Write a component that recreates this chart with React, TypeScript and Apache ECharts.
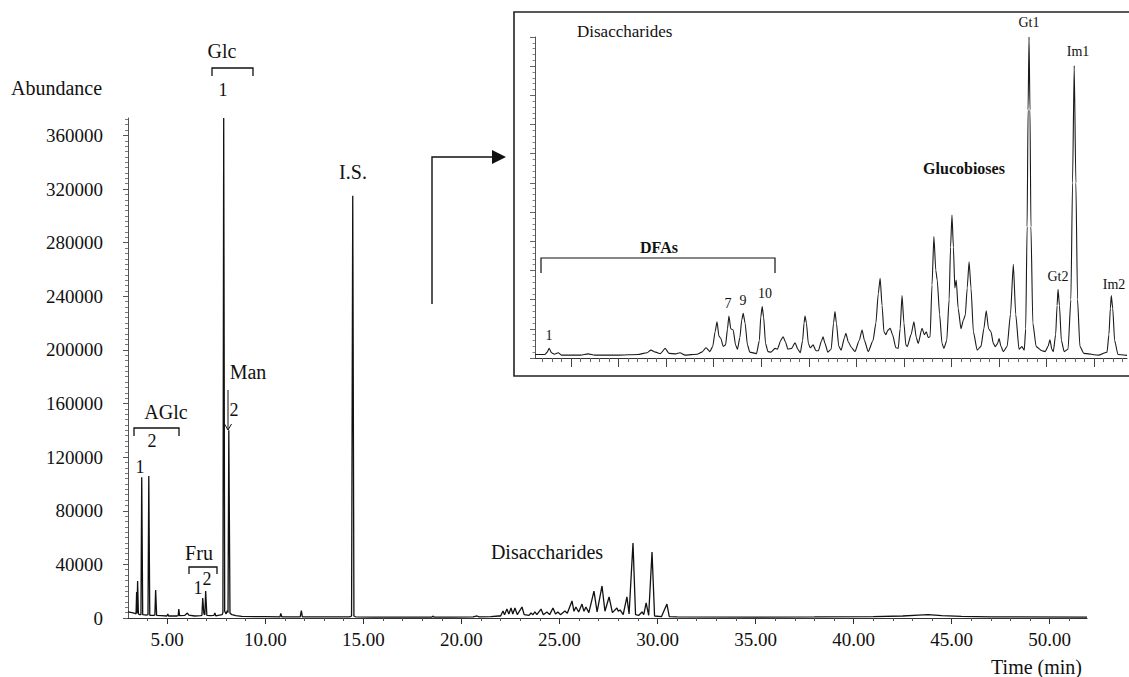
import React, { useEffect, useRef } from "react";
import * as echarts from "echarts";

// ---- main chromatogram (time in min, abundance) ----
const mainMonosaccharides: [number, number][] = [
  [3.0, 4500], [3.2, 4000], [3.35, 3500], [3.41, 3000], [3.44, 19400], [3.46, 3500], [3.49, 27600], [3.53, 3000],
  [3.6, 2500], [3.66, 2500], [3.7, 105000], [3.75, 2500], [3.95, 2200], [4.02, 2500], [4.06, 106000], [4.11, 2000],
  [4.3, 2000], [4.37, 2200], [4.41, 20900], [4.46, 2000], [4.7, 1800], [4.98, 1500], [5.03, 3000], [5.07, 1500],
  [5.5, 1500], [5.56, 1800], [5.59, 6700], [5.63, 1800], [5.9, 2000], [6.03, 3700], [6.1, 2200], [6.4, 1500],
  [6.7, 1800], [6.77, 2000], [6.81, 14900], [6.87, 3000], [6.92, 2500], [6.96, 20100], [7.02, 2000], [7.2, 1800],
  [7.38, 2000], [7.43, 3700], [7.48, 1500], [7.6, 2000], [7.8, 2500], [7.84, 4000], [7.88, 373000], [7.93, 5000],
  [8.0, 3000], [8.06, 5500], [8.1, 4000], [8.14, 140000], [8.2, 3500], [8.3, 2500], [8.5, 1800], [8.8, 1200],
  [9.5, 1000], [10.0, 1000], [10.75, 900], [10.79, 3500], [10.84, 900], [11.78, 900], [11.84, 5500], [11.89, 900],
  [12.5, 900], [13.3, 800], [14.3, 800], [14.4, 1500], [14.46, 315000], [14.52, 1500], [14.6, 900], [15.5, 700],
  [17.0, 700], [18.5, 700], [18.55, 1400], [18.62, 600], [19.5, 700], [20.6, 800], [20.8, 1500], [20.9, 900],
  [21.5, 1000], [21.9, 1500],
];

const mainDisaccharides: [number, number][] = [
  [22.0, 1500], [22.12, 5200], [22.2, 2500], [22.32, 6700], [22.42, 3000], [22.53, 7500], [22.62, 3000],
  [22.73, 7500], [22.85, 2500], [23.09, 8200], [23.2, 2500], [23.45, 2000], [23.55, 3700], [23.65, 2500],
  [23.75, 4500], [23.85, 2500], [24.06, 6700], [24.18, 2500], [24.36, 4500], [24.5, 2500], [24.67, 7500],
  [24.8, 3000], [24.92, 4500], [25.05, 2500], [25.28, 5200], [25.4, 3500], [25.64, 12700], [25.74, 5000],
  [25.84, 8200], [25.98, 4500], [26.15, 10400], [26.25, 5000], [26.35, 8200], [26.5, 4000], [26.76, 20000],
  [26.92, 4500], [27.17, 23900], [27.32, 5000], [27.53, 15700], [27.7, 4000], [27.93, 7500], [28.0, 5000],
  [28.09, 6000], [28.25, 2500], [28.44, 15700], [28.55, 3000], [28.75, 56000], [28.88, 2500], [29.05, 2000],
  [29.21, 4500], [29.3, 2500], [29.42, 11200], [29.55, 2000], [29.72, 49300], [29.85, 1500], [30.2, 1000],
  [30.48, 10400], [30.6, 1000], [31.0, 800],
];

const mainTail: [number, number][] = [
  [35.0, 700], [38.0, 800], [41.0, 1000], [42.5, 1500], [43.3, 2200], [43.8, 2500], [44.5, 1800],
  [45.5, 1200], [47.0, 800], [51.9, 700],
];

// ---- inset (disaccharide region, relative abundance) ----
const insetDFAs: [number, number][] = [
  [18.243, 1.2], [18.45, 1.2], [18.5, 2.0], [18.54, 3.3], [18.59, 1.8], [18.65, 1.3], [18.73, 1.8], [18.8, 1.0],
  [19.2, 1.0], [19.36, 1.4], [19.5, 1.0], [20.0, 1.0], [20.4, 1.2], [20.6, 1.8], [20.68, 2.7], [20.78, 2.0],
  [20.88, 1.5], [20.98, 3.3], [21.06, 1.6], [21.2, 1.4], [21.29, 1.8], [21.4, 1.0], [21.65, 1.3], [21.75, 2.0],
  [21.84, 3.5], [21.92, 2.2], [21.98, 4.0], [22.03, 9.0], [22.07, 12.4], [22.11, 7.5], [22.15, 6.7], [22.2, 4.0],
  [22.25, 4.5], [22.29, 10.0], [22.32, 14.4], [22.36, 10.0], [22.41, 9.6], [22.46, 4.5], [22.5, 3.0], [22.55, 7.0],
  [22.59, 13.0], [22.62, 15.3], [22.66, 12.0], [22.71, 4.5], [22.76, 2.0], [22.9, 1.5], [22.96, 6.0], [22.99, 14.0],
  [23.02, 17.6], [23.05, 14.0], [23.09, 5.0], [23.14, 2.2], [23.2, 2.0], [23.29, 3.3], [23.34, 3.0], [23.41, 6.0],
  [23.46, 7.3], [23.51, 5.5], [23.56, 3.0], [23.64, 3.3], [23.71, 5.2], [23.77, 3.0], [23.82, 1.8], [23.87, 6.0],
  [23.9, 12.0], [23.92, 14.4], [23.95, 12.0], [23.99, 5.0], [24.03, 3.5], [24.09, 4.5], [24.15, 2.5], [24.2, 2.5],
  [24.27, 6.0], [24.3, 7.3], [24.34, 5.0], [24.4, 2.0],
];

const insetGlucobioses: [number, number][] = [
  [24.47, 3.0], [24.52, 12.0], [24.55, 15.9], [24.58, 12.0], [24.63, 4.0], [24.68, 2.7], [24.75, 7.0], [24.78, 8.5],
  [24.83, 5.5], [24.9, 3.5], [24.97, 2.2], [25.06, 6.0], [25.12, 9.6], [25.17, 6.0], [25.25, 2.2], [25.35, 6.0],
  [25.41, 11.9], [25.46, 22.0], [25.5, 27.3], [25.54, 18.0], [25.58, 9.0], [25.62, 8.0], [25.66, 9.5], [25.71, 10.2],
  [25.76, 8.0], [25.83, 3.5], [25.88, 3.3], [25.92, 10.0], [25.96, 21.4], [26.0, 12.0], [26.04, 4.5], [26.07, 3.9],
  [26.15, 8.0], [26.21, 12.4], [26.26, 7.0], [26.3, 5.0], [26.38, 10.2], [26.43, 8.0], [26.47, 9.0], [26.51, 7.0],
  [26.55, 7.3], [26.59, 25.0], [26.63, 41.6], [26.67, 30.0], [26.7, 26.7], [26.75, 15.0], [26.8, 5.0], [26.84, 3.3],
  [26.9, 6.0], [26.95, 20.0], [26.98, 38.0], [27.01, 49.0], [27.04, 38.0], [27.07, 24.0], [27.1, 26.7], [27.14, 17.0],
  [27.2, 10.0], [27.25, 13.0], [27.29, 14.7], [27.33, 24.0], [27.37, 33.0], [27.41, 24.0], [27.46, 9.0], [27.54, 2.7],
  [27.62, 4.0], [27.68, 10.0], [27.73, 16.2], [27.78, 10.0], [27.83, 9.0], [27.88, 5.0], [27.92, 3.9], [27.97, 5.0],
  [28.0, 6.7], [28.04, 4.0], [28.09, 2.2], [28.17, 4.0], [28.24, 15.0], [28.3, 32.1], [28.35, 15.0], [28.42, 3.0],
  [28.48, 3.9], [28.53, 2.7], [28.56, 10.0], [28.59, 45.0], [28.61, 85.0], [28.63, 110.0], [28.65, 85.0], [28.67, 45.0],
  [28.71, 12.0], [28.78, 3.9], [28.9, 2.5], [28.97, 2.2], [29.03, 4.0], [29.07, 6.2], [29.11, 3.0], [29.14, 2.2],
  [29.19, 8.0], [29.22, 18.0], [29.24, 23.5], [29.27, 18.0], [29.31, 6.0], [29.37, 2.2], [29.45, 3.0], [29.51, 20.0],
  [29.545, 60.0], [29.58, 100.2], [29.615, 60.0], [29.65, 20.0], [29.7, 4.0], [29.78, 1.6], [30.1, 1.0], [30.27, 2.0],
  [30.31, 8.0], [30.34, 17.0], [30.36, 21.4], [30.39, 17.0], [30.43, 6.0], [30.5, 1.2], [30.69, 0.9],
];

// ---- axis ticks ----
const mainTimeTicks = [5, 10, 15, 20, 25, 30, 35, 40, 45, 50];
const mainMinorTimeTicks = [4, 6, 7, 8, 9, 11, 12, 13, 14, 16, 17, 18, 19, 21, 22, 23, 24, 26, 27, 28, 29, 31, 32, 33, 34, 36, 37, 38, 39, 41, 42, 43, 44, 46, 47, 48, 49, 51];
const insetTimeTicks = [19, 20, 21, 22, 23, 24, 25, 26, 27, 28, 29, 30];

const SERIF = "'Liberation Serif', 'Times New Roman', serif";
const INK = "#111";

export default function App() {
  const ref = useRef<HTMLDivElement>(null);
  useEffect(() => {
    if (!ref.current) return;
    const chart = echarts.init(ref.current, null, { renderer: "svg" });

    const yMinor: number[] = [];
    for (let v = 4000; v <= 372000; v += 4000) if (v % 40000 !== 0) yMinor.push(v);
    const insetMinor: number[] = [];
    for (let i = 92; i <= 153; i++) if (i % 5 !== 0) insetMinor.push(i / 5);

    const mainTrace = [...mainMonosaccharides, ...mainDisaccharides, ...mainTail];
    const insetTrace = [...insetDFAs, ...insetGlucobioses];

    const txt = (text: string, x: number, y: number, size: number, extra: any = {}) => ({
      type: "text",
      x,
      y,
      silent: true,
      style: {
        text,
        fontFamily: SERIF,
        fontSize: size,
        fill: INK,
        textAlign: "center",
        textVerticalAlign: "middle",
        ...extra,
      },
    });
    const line = (points: number[][], w = 1.3) => ({
      type: "polyline",
      silent: true,
      shape: { points },
      style: { stroke: INK, lineWidth: w, fill: null },
    });

    chart.setOption({
      animation: false,
      grid: [
        { left: 128, top: 118, width: 959, height: 500 },
        { left: 535, top: 37, width: 592, height: 321 },
      ],
      xAxis: [
        {
          type: "value", gridIndex: 0, min: 3.0, max: 51.9, position: "bottom",
          axisLine: { lineStyle: { color: "#333", width: 1.2 } },
          axisTick: { customValues: mainTimeTicks, length: 6, lineStyle: { color: "#333" } },
          axisLabel: {
            customValues: mainTimeTicks, formatter: (v: number) => v.toFixed(2),
            fontFamily: SERIF, fontSize: 19, color: INK, margin: 12,
          },
          splitLine: { show: false },
        },
        {
          type: "value", gridIndex: 0, min: 3.0, max: 51.9, position: "bottom",
          axisLine: { show: false },
          axisTick: { customValues: mainMinorTimeTicks, length: 3, lineStyle: { color: "#555" } },
          axisLabel: { show: false },
          splitLine: { show: false },
        },
        {
          type: "value", gridIndex: 1, min: 18.243, max: 30.69, position: "bottom",
          axisLine: { lineStyle: { color: "#333", width: 1 } },
          axisTick: { customValues: insetTimeTicks, length: 9, lineStyle: { color: "#444" } },
          axisLabel: { show: false },
          splitLine: { show: false },
        },
        {
          type: "value", gridIndex: 1, min: 18.243, max: 30.69, position: "bottom",
          axisLine: { show: false },
          axisTick: { customValues: insetMinor, length: 4, lineStyle: { color: "#666" } },
          axisLabel: { show: false },
          splitLine: { show: false },
        },
      ],
      yAxis: [
        {
          type: "value", gridIndex: 0, min: 0, max: 373000, interval: 40000, position: "left",
          axisLine: { show: true, lineStyle: { color: "#555", width: 1 } },
          axisTick: { show: true, length: 5, lineStyle: { color: "#555" } },
          axisLabel: {
            fontFamily: SERIF, fontSize: 19, color: INK, margin: 25,
            formatter: (v: number) => String(v),
            showMaxLabel: false,
          },
          splitLine: { show: false },
        },
        {
          type: "value", gridIndex: 0, min: 0, max: 373000, position: "left",
          axisLine: { show: false },
          axisTick: { customValues: yMinor, length: 3, lineStyle: { color: "#777" } },
          axisLabel: { show: false },
          splitLine: { show: false },
        },
        {
          type: "value", gridIndex: 1, min: 0, max: 110, interval: 10, position: "left",
          axisLine: { show: true, lineStyle: { color: "#555", width: 1 } },
          axisTick: { show: true, length: 5, lineStyle: { color: "#666" } },
          minorTick: { show: true, splitNumber: 5, length: 2.5, lineStyle: { color: "#888" } },
          axisLabel: { show: false },
          splitLine: { show: false },
        },
      ],
      series: [
        {
          type: "line", xAxisIndex: 0, yAxisIndex: 0, data: mainTrace, showSymbol: false,
          lineStyle: { color: INK, width: 1.3 }, silent: true,
        },
        {
          type: "line", xAxisIndex: 2, yAxisIndex: 2, data: insetTrace, showSymbol: false,
          smooth: 0.2, smoothMonotone: "x",
          lineStyle: { color: "#1a1a1a", width: 1.1 }, silent: true,
        },
      ],
      graphic: [
        // main annotations
        txt("Abundance", 11, 88, 20, { textAlign: "left" }),
        txt("Glc", 222, 51, 20),
        line([[212, 76], [212, 68], [253, 68], [253, 76]]),
        txt("1", 223, 90, 18),
        txt("I.S.", 353, 172, 20),
        txt("AGlc", 166, 412, 20),
        line([[134, 436], [134, 428], [179, 428], [179, 436]]),
        txt("2", 152, 441, 18),
        txt("1", 140, 467, 18),
        txt("Man", 248, 372, 20),
        line([[228, 390], [228, 430]], 1),
        line([[224.5, 424], [228, 430], [231.5, 424]], 1),
        txt("2", 234, 410, 18),
        txt("Fru", 199, 553, 20),
        line([[189, 574], [189, 567], [217, 567], [217, 574]]),
        txt("1", 198, 588, 18),
        txt("2", 207, 579, 18),
        txt("Disaccharides", 547, 552, 20),
        txt("Time (min)", 1082, 667, 20, { textAlign: "right" }),
        // arrow pointing to inset
        line([[432, 304], [432, 157], [493, 157]], 1.4),
        { type: "polygon", silent: true, shape: { points: [[492, 150], [506, 157], [492, 164]] }, style: { fill: INK } },
        // inset frame
        { type: "rect", silent: true, shape: { x: 514, y: 12, width: 640, height: 364 }, style: { fill: null, stroke: "#222", lineWidth: 1.6 } },
        txt("Disaccharides", 577, 31, 17, { textAlign: "left" }),
        txt("DFAs", 659, 247, 16, { fontWeight: "bold" }),
        line([[541, 273], [541, 258], [775, 258], [775, 273]], 1.2),
        txt("1", 549, 335, 14),
        txt("7", 728, 303, 14),
        txt("9", 743, 300, 14),
        txt("10", 765, 293, 14),
        txt("Glucobioses", 964, 168, 16, { fontWeight: "bold" }),
        txt("Gt1", 1029, 22, 14),
        txt("Im1", 1078, 51, 14),
        txt("Gt2", 1058, 276, 14),
        txt("Im2", 1114, 284, 14),
      ],
    });
    return () => chart.dispose();
  }, []);
  return (
    <div
      ref={ref}
      style={{ position: "absolute", left: 0, top: 0, width: 1129, height: 677, background: "#fff" }}
    />
  );
}
